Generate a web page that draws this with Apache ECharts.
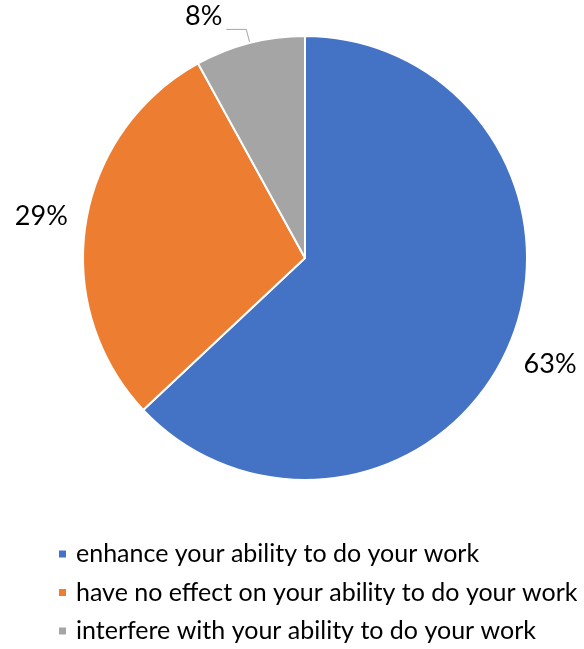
<!DOCTYPE html>
<html>
<head>
<meta charset="utf-8">
<script src="https://cdn.jsdelivr.net/npm/echarts@6/dist/echarts.min.js"></script>
<style>
  html, body { margin: 0; padding: 0; background: #fff; }
  #chart { width: 584px; height: 649px; }
</style>
</head>
<body>
<div id="chart"></div>
<script>
// Survey answers and their shares (percent)
const categories = [
  'enhance your ability to do your work',
  'have no effect on your ability to do your work',
  'interfere with your ability to do your work'
];
const shares = [63, 29, 8];
const colors = ['#4472C4', '#ED7D31', '#A5A5A5'];

// Pie geometry
const CX = 305, CY = 258, R = 222;
const LABEL_R = 267; // distance of the percentage labels from the centre

const total = shares.reduce((a, b) => a + b, 0);
function midAngle(i) {
  let before = 0;
  for (let k = 0; k < i; k++) before += shares[k];
  return ((before + shares[i] / 2) / total) * Math.PI * 2; // clockwise from 12 o'clock
}

const FONT = 'Lato, "Open Sans", sans-serif';

const chart = echarts.init(document.getElementById('chart'), null, { renderer: 'canvas' });
chart.setOption({
  animation: false,
  backgroundColor: '#fff',
  color: colors,
  legend: {
    orient: 'vertical',
    left: 57,
    top: 540,
    height: 110,
    padding: 0,
    icon: 'rect',
    itemWidth: 9,
    itemHeight: 9,
    itemGap: 10.5,
    textStyle: {
      fontFamily: FONT,
      fontSize: 25,
      lineHeight: 28,
      color: '#000',
      padding: [0, 0, 0, 4]
    },
    data: categories
  },
  series: [{
    type: 'pie',
    center: [CX, CY],
    radius: R,
    startAngle: 90,
    clockwise: true,
    avoidLabelOverlap: false,
    itemStyle: { borderColor: '#fff', borderWidth: 2 },
    label: {
      show: true,
      position: 'outside',
      formatter: '{c}%',
      fontFamily: FONT,
      fontSize: 27,
      color: '#000',
      distanceToLabelLine: 4
    },
    labelLine: {
      show: true,
      length: 14,
      length2: 20,
      lineStyle: { color: '#A6A6A6', width: 1 }
    },
    labelLayout: function (p) {
      if (p.dataIndex === 2) {
        return { verticalAlign: 'bottom' };
      }
      const a = midAngle(p.dataIndex);
      return {
        x: CX + LABEL_R * Math.sin(a),
        y: CY - LABEL_R * Math.cos(a),
        align: 'center',
        verticalAlign: 'middle'
      };
    },
    emphasis: { disabled: true },
    data: categories.map((name, i) => ({
      name: name,
      value: shares[i],
      labelLine: { show: i === 2 }
    }))
  }]
});
</script>
</body>
</html>
